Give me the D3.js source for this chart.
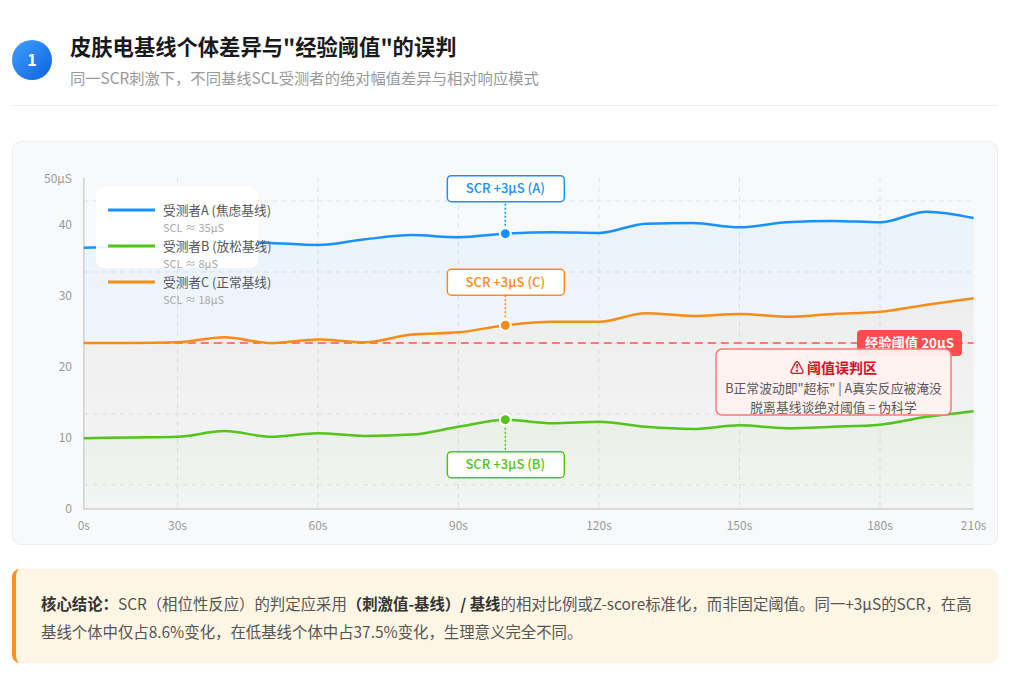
<!DOCTYPE html>
<html>
<head>
<meta charset="utf-8">
<script src="https://cdn.jsdelivr.net/npm/d3@7"></script>
<style>
body { margin: 0; background: #fff; font-family: "Noto Sans CJK SC", "Noto Sans", sans-serif; }
#wrap { position: relative; width: 1024px; height: 676px; overflow: hidden; }
#wrap svg { position: absolute; left: 0; top: 0; }
.note {
    position: absolute; left: 12px; top: 569px; width: 986px; height: 94px;
    box-sizing: border-box; background: #fef6e5; border-left: 4px solid #f7931e;
    border-radius: 8px; padding: 20px 0 0 25px; font-size: 15.4px; line-height: 28px;
    color: #555; white-space: nowrap;
}
.note b { color: #333; }
</style>
</head>
<body>
<div id="wrap">
<div class="note"><b>核心结论：</b>SCR（相位性反应）的判定应采用<b>（刺激值-基线）/ 基线</b>的相对比例或Z-score标准化，而非固定阈值。同一+3μS的SCR，在高<br>基线个体中仅占8.6%变化，在低基线个体中占37.5%变化，生理意义完全不同。</div>
</div>
<script>
// time points (s)
var times = [10, 20, 30, 40, 50, 60, 70, 80, 90, 100, 110, 120, 130, 140, 150, 160, 170, 180, 190, 200];
// SCL traces, µS
var seriesA = [33.4, 33.6, 33.9, 34.3, 34.1, 33.8, 34.6, 35.2, 34.9, 35.4, 35.6, 35.5, 36.8, 36.9, 36.3, 37.0, 37.2, 37.0, 38.5, 37.6];
var seriesB = [6.6, 6.7, 6.8, 7.6, 6.8, 7.3, 6.9, 7.1, 8.2, 9.2, 8.7, 8.9, 8.2, 7.9, 8.4, 8.0, 8.2, 8.5, 9.6, 10.4];
var seriesC = [20.0, 20.0, 20.1, 20.8, 20.0, 20.5, 20.1, 21.2, 21.5, 22.5, 23.0, 23.0, 24.2, 23.8, 24.1, 23.7, 24.1, 24.4, 25.4, 26.3];
var names = ["受测者A (焦虑基线)", "受测者B (放松基线)", "受测者C (正常基线)"];
var sclLabels = ["SCL ≈ 35μS", "SCL ≈ 8μS", "SCL ≈ 18μS"];
var colors = ["#1890ff", "#52c41a", "#fa8c16"];
var xTicks = [0, 30, 60, 90, 120, 150, 180, 210];
var yTicks = [0, 10, 20, 30, 40, 50];
var threshold = 20;
var stimTime = 100;

var w = 1024, h = 676;
var svg = d3.select("#wrap").append("svg").attr("width", w).attr("height", h);
var defs = svg.append("defs");

// header
var bg = defs.append("linearGradient").attr("id", "badge").attr("x1", 0).attr("y1", 0).attr("x2", 1).attr("y2", 1);
bg.append("stop").attr("offset", "0%").attr("stop-color", "#40a0ff");
bg.append("stop").attr("offset", "100%").attr("stop-color", "#0c62dc");
svg.append("circle").attr("cx", 32).attr("cy", 60).attr("r", 20).attr("fill", "url(#badge)");
svg.append("text").attr("x", 32).attr("y", 60).attr("dy", "0.36em").attr("text-anchor", "middle")
    .attr("fill", "white").attr("font-size", 16).attr("font-weight", "bold").text("1");
svg.append("text").attr("x", 70).attr("y", 47).attr("dy", "0.36em")
    .attr("fill", "#1a1a1a").attr("font-size", 21.3).attr("font-weight", "bold")
    .text("皮肤电基线个体差异与\"经验阈值\"的误判");
svg.append("text").attr("x", 70).attr("y", 78).attr("dy", "0.36em")
    .attr("fill", "#999").attr("font-size", 15.3)
    .text("同一SCR刺激下，不同基线SCL受测者的绝对幅值差异与相对响应模式");
svg.append("line").attr("x1", 12).attr("x2", 998).attr("y1", 105.5).attr("y2", 105.5)
    .attr("stroke", "#eeeeee");

// card
svg.append("rect").attr("x", 12.5).attr("y", 141.5).attr("width", 985).attr("height", 403)
    .attr("rx", 8).attr("fill", "#f8f9fb").attr("stroke", "#eceef1");

var x = d3.scaleLinear().domain([0, 210]).range([37, 1020.5]);
var y = d3.scaleLinear().domain([0, 40]).range([485, 201]);
var plotLeft = x(times[0]), plotRight = x(times[times.length - 1]);
var plotTop = 178, plotBottom = 509;

// grid
svg.append("g").selectAll("line").data(yTicks.filter(function (d) { return y(d) > plotTop; }))
    .enter().append("line")
    .attr("x1", plotLeft).attr("x2", plotRight)
    .attr("y1", function (d) { return y(d); }).attr("y2", function (d) { return y(d); })
    .attr("stroke", "#e3e3e3").attr("stroke-dasharray", "5,4");
svg.append("g").selectAll("line").data(xTicks.filter(function (d) { return x(d) > plotLeft && x(d) < plotRight; }))
    .enter().append("line")
    .attr("x1", function (d) { return x(d); }).attr("x2", function (d) { return x(d); })
    .attr("y1", plotTop).attr("y2", plotBottom)
    .attr("stroke", "#e3e3e3").attr("stroke-dasharray", "5,4");

// areas
var all = [seriesA, seriesB, seriesC];
all.forEach(function (s, i) {
    var g = defs.append("linearGradient").attr("id", "ar" + i).attr("x1", 0).attr("y1", 0).attr("x2", 0).attr("y2", 1);
    g.append("stop").attr("offset", "0%").attr("stop-color", colors[i]).attr("stop-opacity", 0.06);
    g.append("stop").attr("offset", "100%").attr("stop-color", colors[i]).attr("stop-opacity", 0.015);
});
var area = d3.area()
    .x(function (d, i) { return x(times[i]); })
    .y0(plotBottom)
    .y1(function (d) { return y(d); })
    .curve(d3.curveMonotoneX);
var line = d3.line()
    .x(function (d, i) { return x(times[i]); })
    .y(function (d) { return y(d); })
    .curve(d3.curveMonotoneX);

svg.append("g").selectAll("path").data(all).enter().append("path")
    .attr("d", area)
    .attr("fill", function (d, i) { return "url(#ar" + i + ")"; });

// axes
svg.append("line").attr("x1", plotLeft).attr("x2", plotLeft).attr("y1", plotTop).attr("y2", plotBottom)
    .attr("stroke", "#d0d0d0").attr("stroke-width", 1.5);
svg.append("line").attr("x1", plotLeft).attr("x2", plotRight).attr("y1", plotBottom).attr("y2", plotBottom)
    .attr("stroke", "#d9d9d9").attr("stroke-width", 2);

svg.append("g").selectAll("text").data(yTicks).enter().append("text")
    .attr("x", 72).attr("text-anchor", "end")
    .attr("y", function (d) { return Math.max(plotTop + 1, y(d) + 24); })
    .attr("dy", "0.36em").attr("fill", "#999").attr("font-size", 12)
    .text(function (d) { return d === 50 ? d + "μS" : d; });
svg.append("g").selectAll("text").data(xTicks).enter().append("text")
    .attr("x", function (d) { return Math.min(plotRight, Math.max(plotLeft, x(d))); })
    .attr("y", 526).attr("dy", "0.36em").attr("text-anchor", "middle")
    .attr("fill", "#999").attr("font-size", 12)
    .text(function (d) { return d + "s"; });

// threshold
svg.append("line").attr("x1", plotLeft).attr("x2", plotRight)
    .attr("y1", y(threshold)).attr("y2", y(threshold))
    .attr("stroke", "#ff7875").attr("stroke-width", 2).attr("stroke-dasharray", "8,5");

// lines
svg.append("g").selectAll("path").data(all).enter().append("path")
    .attr("d", line).attr("fill", "none")
    .attr("stroke", function (d, i) { return colors[i]; })
    .attr("stroke-width", 2.5);

// threshold label
svg.append("rect").attr("x", 857).attr("y", y(threshold) - 13).attr("width", 105).attr("height", 26)
    .attr("rx", 4).attr("fill", "#ff4d4f");
svg.append("text").attr("x", 909.5).attr("y", y(threshold)).attr("dy", "0.36em")
    .attr("text-anchor", "middle").attr("fill", "white").attr("font-size", 13.3).attr("font-weight", "bold")
    .text("经验阈值 " + threshold + "μS");

// warning box
svg.append("rect").attr("x", 716).attr("y", 349).attr("width", 235).attr("height", 66)
    .attr("rx", 6).attr("fill", "#fff1f0").attr("fill-opacity", 0.96)
    .attr("stroke", "#ff7875").attr("stroke-width", 1.5);
svg.append("text").attr("x", 833.5).attr("y", 368).attr("dy", "0.36em").attr("text-anchor", "middle")
    .attr("fill", "#cf1322").attr("font-size", 14).attr("font-weight", "bold")
    .text("⚠ 阈值误判区");
svg.append("text").attr("x", 833.5).attr("y", 388).attr("dy", "0.36em").attr("text-anchor", "middle")
    .attr("fill", "#595959").attr("font-size", 12.8)
    .text("B正常波动即\"超标\" | A真实反应被淹没");
svg.append("text").attr("x", 833.5).attr("y", 407).attr("dy", "0.36em").attr("text-anchor", "middle")
    .attr("fill", "#595959").attr("font-size", 12.8)
    .text("脱离基线谈绝对阈值 = 伪科学");

// SCR markers
var si = times.indexOf(stimTime);
var marks = [
    { v: seriesA[si], c: colors[0], t: "SCR +3μS (A)", off: -45 },
    { v: seriesC[si], c: colors[2], t: "SCR +3μS (C)", off: -43 },
    { v: seriesB[si], c: colors[1], t: "SCR +3μS (B)", off: 45 }
];
var mg = svg.append("g").selectAll("g").data(marks).enter().append("g");
mg.append("line")
    .attr("x1", x(stimTime)).attr("x2", x(stimTime))
    .attr("y1", function (d) { return y(d.v); })
    .attr("y2", function (d) { return y(d.v) + d.off; })
    .attr("stroke", function (d) { return d.c; }).attr("stroke-width", 1.5).attr("stroke-dasharray", "2,2");
mg.append("rect")
    .attr("x", x(stimTime) - 58).attr("width", 117).attr("height", 26).attr("rx", 4)
    .attr("y", function (d) { return y(d.v) + d.off - 13; })
    .attr("fill", "white").attr("stroke", function (d) { return d.c; }).attr("stroke-width", 1.5);
mg.append("text")
    .attr("x", x(stimTime)).attr("text-anchor", "middle")
    .attr("y", function (d) { return y(d.v) + d.off; }).attr("dy", "0.36em")
    .attr("fill", function (d) { return d.c; }).attr("font-size", 13).attr("font-weight", 500)
    .text(function (d) { return d.t; });
mg.append("circle")
    .attr("cx", x(stimTime)).attr("cy", function (d) { return y(d.v); }).attr("r", 5.5)
    .attr("fill", function (d) { return d.c; }).attr("stroke", "white").attr("stroke-width", 2);

// legend
svg.append("rect").attr("x", 96).attr("y", 187).attr("width", 162).attr("height", 81)
    .attr("rx", 8).attr("fill", "white").attr("fill-opacity", 0.92);
var lg = svg.append("g").selectAll("g").data(names).enter().append("g")
    .attr("transform", function (d, i) { return "translate(108," + (210 + i * 36) + ")"; });
lg.append("line").attr("x1", 0).attr("x2", 47)
    .attr("stroke", function (d, i) { return colors[i]; }).attr("stroke-width", 3);
lg.append("text").attr("x", 55).attr("dy", "0.36em").attr("fill", "#555").attr("font-size", 12.7)
    .text(function (d) { return d; });
lg.append("text").attr("x", 55).attr("y", 18).attr("dy", "0.36em").attr("fill", "#aaa").attr("font-size", 11)
    .text(function (d, i) { return sclLabels[i]; });
</script>
</body>
</html>
